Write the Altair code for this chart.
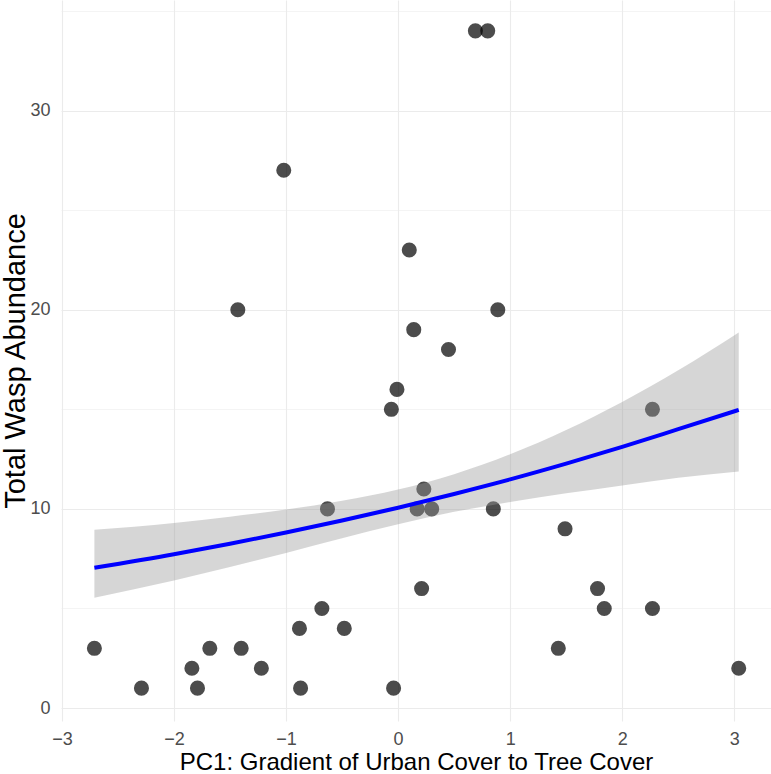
import altair as alt
import pandas as pd

# Observed points
pc1 = [-2.71, -2.29, -1.84, -1.79, -1.68, -1.43, -1.40, -1.22, -1.02, -0.88,
       -0.87, -0.68, -0.63, -0.48, -0.06, -0.04, -0.01, 0.10, 0.14, 0.17,
       0.21, 0.23, 0.30, 0.45, 0.69, 0.80, 0.85, 0.89, 1.43, 1.49,
       1.78, 1.84, 2.27, 2.27, 3.04]
abundance = [3, 1, 2, 1, 3, 20, 3, 2, 27, 4,
             1, 5, 10, 4, 15, 1, 16, 23, 19, 10,
             6, 11, 10, 18, 34, 34, 10, 20, 3, 9,
             6, 5, 15, 5, 2]

# Fitted curve and confidence band
fit_x = [-2.71, -2.0, -1.5, -1.0, -0.5, 0.0, 0.5, 1.0, 1.5, 2.0, 2.5, 3.04]
fit_y = [7.04, 7.72, 8.25, 8.81, 9.42, 10.06, 10.75, 11.48, 12.27, 13.11, 14.0, 14.97]
fit_lo = [5.54, 6.41, 7.08, 7.79, 8.53, 9.23, 9.85, 10.35, 10.78, 11.18, 11.56, 11.88]
fit_hi = [8.95, 9.29, 9.61, 9.97, 10.41, 10.97, 11.74, 12.74, 13.96, 15.37, 16.96, 18.86]

x_ticks = [-3, -2.5, -2, -1.5, -1, -0.5, 0, 0.5, 1, 1.5, 2, 2.5, 3]
y_ticks = [0, 5, 10, 15, 20, 25, 30, 35]

pts = pd.DataFrame({"x": pc1, "y": abundance})
fit = pd.DataFrame({"x": fit_x, "y": fit_y, "lo": fit_lo, "hi": fit_hi})

FONT = "Liberation Sans"

x_scale = alt.Scale(domain=[-3.008, 3.328], nice=False, zero=False)
y_scale = alt.Scale(domain=[-0.65, 35.55], nice=False, zero=False)

x_axis = alt.Axis(
    title="PC1: Gradient of Urban Cover to Tree Cover",
    values=x_ticks,
    labelExpr="datum.value % 1 === 0 ? datum.label : ''",
    format="d",
    grid=True,
    gridColor="#EBEBEB",
    gridWidth={"condition": {"test": "datum.value % 1 === 0", "value": 1.1}, "value": 0.55},
    ticks=False,
    domain=False,
    labelFont=FONT,
    labelFontSize=18,
    labelColor="#4D4D4D",
    labelPadding=9,
    labelFlush=False,
    titleFont=FONT,
    titleFontSize=24,
    titleFontWeight="normal",
    titleColor="#000000",
    titleBaseline="alphabetic",
    titleY=48,
)

y_axis = alt.Axis(
    title="Total Wasp Abundance",
    values=y_ticks,
    labelExpr="datum.value % 10 === 0 ? datum.label : ''",
    format="d",
    grid=True,
    gridColor="#EBEBEB",
    gridWidth={"condition": {"test": "datum.value % 10 === 0", "value": 1.1}, "value": 0.55},
    ticks=False,
    domain=False,
    labelFont=FONT,
    labelFontSize=18,
    labelColor="#4D4D4D",
    labelPadding=11,
    labelFlush=False,
    titleFont=FONT,
    titleFontSize=29,
    titleFontWeight="normal",
    titleColor="#000000",
    titleBaseline="alphabetic",
    titleX=-37,
)

points = alt.Chart(pts).mark_circle(size=227, color="#000000", opacity=0.7).encode(
    x=alt.X("x:Q", scale=x_scale, axis=x_axis),
    y=alt.Y("y:Q", scale=y_scale, axis=y_axis),
)

band = alt.Chart(fit).mark_area(color="#999999", opacity=0.4, interpolate="monotone").encode(
    x=alt.X("x:Q", scale=x_scale),
    y=alt.Y("lo:Q", scale=y_scale),
    y2="hi:Q",
)

line = alt.Chart(fit).mark_line(color="#0000FF", strokeWidth=4, interpolate="monotone").encode(
    x=alt.X("x:Q", scale=x_scale),
    y=alt.Y("y:Q", scale=y_scale),
)

chart = alt.layer(points, band, line).properties(
    width=710,
    height=721,
    autosize=alt.AutoSizeParams(type="none"),
    padding={"left": 61, "top": 0, "right": 0, "bottom": 53},
    background="white",
).configure_view(stroke=None)

chart.save("out.html", embed_options={"renderer": "svg", "actions": False})
